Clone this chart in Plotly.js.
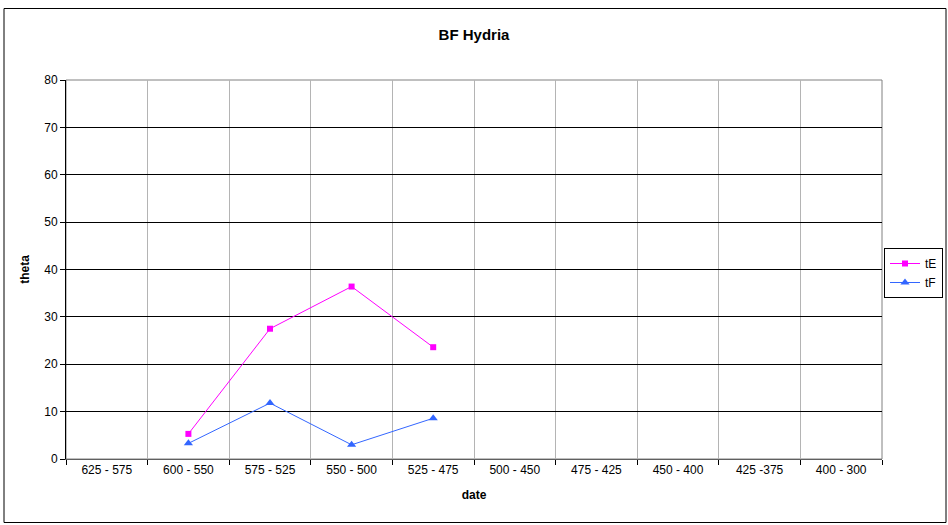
<!DOCTYPE html>
<html>
<head>
<meta charset="utf-8">
<script src="https://cdn.plot.ly/plotly-3.0.1.min.js"></script>
<style>html,body{margin:0;padding:0;background:#fff;}#chart{width:948px;height:525px;}</style>
</head>
<body>
<div id="chart"></div>
<script>
const categories = ["625 - 575","600 - 550","575 - 525","550 - 500","525 - 475","500 - 450","475 - 425","450 - 400","425 -375","400 - 300"];
const tE_x = ["600 - 550","575 - 525","550 - 500","525 - 475"];
const tE = [5.3, 27.5, 36.4, 23.6];
const tF_x = ["600 - 550","575 - 525","550 - 500","525 - 475"];
const tF = [3.3, 11.8, 3.0, 8.6];
const yTicks = [0,10,20,30,40,50,60,70,80];

const W = 948, H = 525, L = 66, R = 66, T = 80, B = 66;
const pw = W - L - R, ph = H - T - B;
const px = v => (v - L) / pw;
const py = v => (H - B - v) / ph;

const font = {family: "Liberation Sans, Arial, sans-serif", color: "#000", size: 12};

const traces = [
  {x: tE_x, y: tE, name: "tE", type: "scatter", mode: "lines+markers",
   line: {color: "#FF00FF", width: 1}, marker: {symbol: "square", size: 6, color: "#FF00FF"}},
  {x: tF_x, y: tF, name: "tF", type: "scatter", mode: "lines+markers",
   line: {color: "#3366FF", width: 1}, marker: {symbol: "triangle-up", size: 8, color: "#3366FF"}}
];

const layout = {
  width: W, height: H,
  margin: {l: L, r: R, t: T, b: B, pad: 0, autoexpand: false},
  paper_bgcolor: "#fff", plot_bgcolor: "#fff",
  font: font,
  showlegend: true,
  title: {text: "<b>BF Hydria</b>", font: {family: font.family, size: 15, color: "#000"}, x: 0.5, xanchor: "center", y: 1 - 35/H, yanchor: "middle"},
  xaxis: {
    type: "category", categoryorder: "array", categoryarray: categories,
    tickvals: categories, ticktext: categories,
    range: [-0.5, 9.5], tickson: "boundaries",
    showgrid: true, gridcolor: "#b4b4b4", gridwidth: 1,
    ticks: "outside", ticklen: 5, tickcolor: "#000",
    showline: true, linecolor: "#606060", linewidth: 1,
    zeroline: false, fixedrange: true,
    tickfont: {family: font.family, size: 12, color: "#000"},
    title: {text: "<b>date</b>", font: {family: font.family, size: 12, color: "#000"}, standoff: 14}
  },
  yaxis: {
    range: [0, 80], tickvals: yTicks, ticktext: yTicks.map(String),
    showgrid: true, gridcolor: "#000", gridwidth: 1,
    ticks: "outside", ticklen: 5, tickcolor: "#000",
    showline: true, linecolor: "#000", linewidth: 1,
    zeroline: false, fixedrange: true,
    tickfont: {family: font.family, size: 12, color: "#000"},
    title: {text: "<b>theta</b>", font: {family: font.family, size: 12, color: "#000"}, standoff: 12}
  },
  legend: {
    x: px(943), y: py(248), xanchor: "right", yanchor: "top",
    bgcolor: "#fff", bordercolor: "#000", borderwidth: 1,
    font: {family: font.family, size: 12, color: "#000"},
    tracegroupgap: 0, itemwidth: 30
  },
  shapes: [
    {type: "rect", xref: "paper", yref: "paper", x0: 0, x1: 1, y0: 0, y1: 1,
     line: {color: "#808080", width: 1}, layer: "below"},
    {type: "rect", xref: "paper", yref: "paper", x0: px(4), x1: px(946), y0: py(522.5), y1: py(8.5),
     line: {color: "#000", width: 1}}
  ]
};

Plotly.newPlot("chart", traces, layout, {displayModeBar: false, staticPlot: true});
</script>
</body>
</html>
